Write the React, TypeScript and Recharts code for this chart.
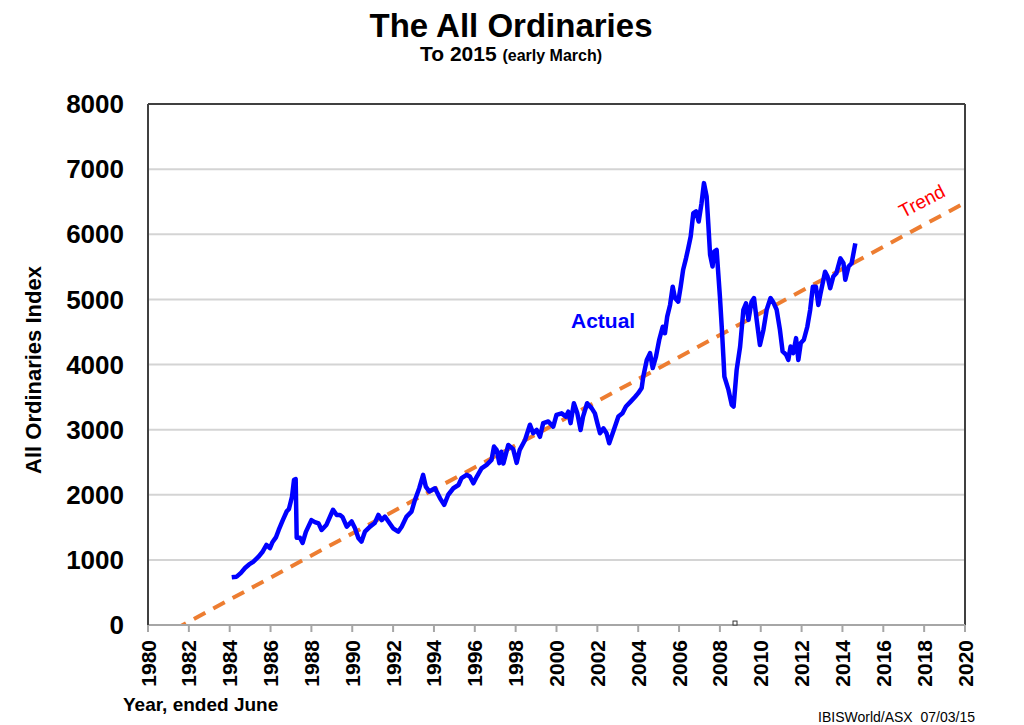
import { CartesianGrid, Line, LineChart, ReferenceDot, ReferenceLine, XAxis, YAxis } from 'recharts';

// All Ordinaries index (x = year, ended June)
const actualYears = [
  1984.1, 1984.34, 1984.55, 1984.75, 1984.95, 1985.15, 1985.4, 1985.6, 1985.8, 1985.97,
  1986.1, 1986.27, 1986.4, 1986.6, 1986.8, 1986.9, 1987.05, 1987.15, 1987.23, 1987.28,
  1987.44, 1987.57, 1987.73, 1988.0, 1988.17, 1988.35, 1988.5, 1988.74, 1989.06, 1989.24,
  1989.4, 1989.52, 1989.73, 1989.97, 1990.13, 1990.3, 1990.45, 1990.62, 1990.87, 1991.1,
  1991.28, 1991.44, 1991.6, 1991.77, 1992.0, 1992.25, 1992.42, 1992.66, 1992.9, 1993.07,
  1993.28, 1993.47, 1993.6, 1993.77, 1994.05, 1994.3, 1994.5, 1994.7, 1994.95, 1995.2,
  1995.35, 1995.6, 1995.76, 1995.93, 1996.1, 1996.33, 1996.58, 1996.82, 1996.94, 1997.07,
  1997.2, 1997.3, 1997.4, 1997.64, 1997.88, 1998.05, 1998.2, 1998.46, 1998.7, 1998.86,
  1999.03, 1999.19, 1999.35, 1999.6, 1999.84, 2000.0, 2000.25, 2000.46, 2000.58, 2000.69,
  2000.85, 2001.02, 2001.18, 2001.3, 2001.5, 2001.72, 2001.88, 2002.0, 2002.13, 2002.3,
  2002.45, 2002.58, 2002.78, 2003.03, 2003.23, 2003.4, 2003.63, 2003.84, 2004.0, 2004.17,
  2004.25, 2004.42, 2004.58, 2004.71, 2004.87, 2005.03, 2005.2, 2005.31, 2005.42, 2005.56,
  2005.69, 2005.8, 2005.96, 2006.08, 2006.2, 2006.34, 2006.45, 2006.57, 2006.7, 2006.83,
  2006.96, 2007.1, 2007.22, 2007.35, 2007.43, 2007.52, 2007.64, 2007.72, 2007.84, 2007.92,
  2008.0, 2008.09, 2008.17, 2008.22, 2008.42, 2008.58, 2008.67, 2008.82, 2008.99, 2009.15,
  2009.28, 2009.4, 2009.55, 2009.67, 2009.8, 2009.96, 2010.13, 2010.29, 2010.48, 2010.6,
  2010.78, 2010.94, 2011.07, 2011.24, 2011.35, 2011.46, 2011.59, 2011.73, 2011.84, 2011.96,
  2012.11, 2012.28, 2012.42, 2012.55, 2012.7, 2012.82, 2012.93, 2013.15, 2013.27, 2013.4,
  2013.55, 2013.7, 2013.9, 2014.05, 2014.14, 2014.3, 2014.45, 2014.63,
];
const actualValues = [
  733, 742, 800, 875, 930, 970, 1045, 1120, 1230, 1180,
  1275, 1350, 1460, 1610, 1750, 1780, 1970, 2230, 2240, 1340,
  1340, 1260, 1430, 1610, 1580, 1560, 1460, 1540, 1770, 1690,
  1690, 1660, 1510, 1590, 1490, 1335, 1280, 1433, 1510, 1565,
  1690, 1610, 1665, 1590, 1485, 1433, 1510, 1665, 1740, 1920,
  2100, 2305, 2125, 2050, 2100, 1945, 1845, 2000, 2100, 2150,
  2255, 2305, 2280, 2175, 2280, 2405, 2460, 2535, 2740, 2690,
  2485, 2660, 2480, 2765, 2700, 2490, 2690, 2840, 3075, 2945,
  2995, 2890, 3100, 3125, 3045, 3225, 3250, 3200, 3275, 3100,
  3405, 3250, 2995, 3200, 3405, 3330, 3250, 3100, 2945, 3020,
  2945, 2790, 2970, 3200, 3250, 3355, 3430, 3500, 3560, 3640,
  3815, 4070, 4175, 3945, 4120, 4380, 4580, 4480, 4735, 4915,
  5195, 5020, 4965, 5195, 5455, 5630, 5785, 5965, 6325, 6350,
  6195, 6475, 6785, 6580, 6170, 5685, 5505, 5735, 5760, 5400,
  5045, 4580, 4120, 3815, 3610, 3380, 3355, 3915, 4275, 4840,
  4940, 4685, 4965, 5020, 4685, 4300, 4530, 4840, 5020, 4965,
  4840, 4530, 4200, 4150, 4070, 4275, 4175, 4405, 4070, 4330,
  4380, 4580, 4840, 5195, 5195, 4915, 5095, 5425, 5350, 5170,
  5350, 5400, 5630, 5555, 5300, 5505, 5555, 5860,
];

const trendYears = [1981.3, 2020];
const trendValues = [-68, 6484];

const xTicks = [1980, 1982, 1984, 1986, 1988, 1990, 1992, 1994, 1996, 1998, 2000, 2002, 2004, 2006, 2008, 2010, 2012, 2014, 2016, 2018, 2020];
const yTicks = [0, 1000, 2000, 3000, 4000, 5000, 6000, 7000, 8000];

const actualData = actualYears.map((year, i) => ({ year, value: actualValues[i] }));
const trendData = trendYears.map((year, i) => ({ year, value: trendValues[i] }));

const FONT = '"Liberation Sans", Arial, sans-serif';

const XTick = ({ x, y, payload }: any) => (
  <text
    x={x}
    y={y}
    transform={`rotate(-90 ${x} ${y})`}
    textAnchor="end"
    dy="0.36em"
    fontFamily={FONT}
    fontWeight="bold"
    fontSize={21}
    fill="#000"
  >
    {payload.value}
  </text>
);

const Marker = (p: any) => (
  <rect x={p.cx - 2} y={p.cy - 2} width={4} height={4} fill="#fff" stroke="#333" strokeWidth={1} />
);

export default function App() {
  return (
    <div style={{ position: 'absolute', left: 0, top: 0, width: 1024, height: 725, background: '#fff' }}>
      <LineChart width={1024} height={725} margin={{ top: 104, right: 59, bottom: 0, left: 0 }}>
        <CartesianGrid horizontal vertical={false} stroke="#d4d4d4" strokeWidth={2} />
        <XAxis
          type="number"
          dataKey="year"
          domain={[1980, 2020]}
          ticks={xTicks}
          allowDataOverflow
          height={100}
          axisLine={{ stroke: '#a6a6a6', strokeWidth: 2 }}
          tickLine={{ stroke: '#a6a6a6', strokeWidth: 2 }}
          tickSize={7}
          tickMargin={8}
          tick={<XTick />}
          interval={0}
        />
        <YAxis
          type="number"
          domain={[0, 8000]}
          ticks={yTicks}
          allowDataOverflow
          width={148}
          axisLine={{ stroke: '#404040', strokeWidth: 2 }}
          tickLine={false}
          tickSize={0}
          tickMargin={24}
          interval={0}
          tick={{ fontFamily: FONT, fontWeight: 'bold', fontSize: 26, fill: '#000' }}
        />
        <ReferenceLine y={8000} stroke="#404040" strokeWidth={2} />
        <ReferenceLine x={2020} stroke="#404040" strokeWidth={2} />
        <Line
          data={trendData}
          dataKey="value"
          type="linear"
          stroke="#ED7D31"
          strokeWidth={4}
          strokeDasharray="13 9"
          dot={false}
          isAnimationActive={false}
        />
        <Line
          data={actualData}
          dataKey="value"
          type="linear"
          stroke="#0000FF"
          strokeWidth={4.5}
          strokeLinejoin="round"
          dot={false}
          isAnimationActive={false}
        />
        <ReferenceDot x={2008.74} y={30} r={2} shape={Marker} ifOverflow="visible" />
      </LineChart>
      <svg
        width={1024}
        height={725}
        style={{ position: 'absolute', left: 0, top: 0, pointerEvents: 'none' }}
        fontFamily={FONT}
      >
        <text x={511} y={37} textAnchor="middle" fontWeight="bold" fontSize={33} fill="#000">
          The All Ordinaries
        </text>
        <text x={511} y={61} textAnchor="middle" fontWeight="bold" fill="#000">
          <tspan fontSize={21}>To 2015 </tspan>
          <tspan fontSize={16}>(early March)</tspan>
        </text>
        <text x={41} y={370} transform="rotate(-90 41 370)" textAnchor="middle" fontWeight="bold" fontSize={22} fill="#000">
          All Ordinaries Index
        </text>
        <text x={571} y={328} fontWeight="bold" fontSize={21} fill="#0000FF">
          Actual
        </text>
        <text x={925} y={207} transform="rotate(-27.5 925 207)" textAnchor="middle" fontSize={19} fill="#FF0000">
          Trend
        </text>
        <text x={123} y={711} fontWeight="bold" fontSize={19} fill="#000">
          Year, ended June
        </text>
        <text x={975} y={722} textAnchor="end" fontSize={14} fill="#000">
          {'IBISWorld/ASX\u00a0\u00a007/03/15'}
        </text>
      </svg>
    </div>
  );
}
